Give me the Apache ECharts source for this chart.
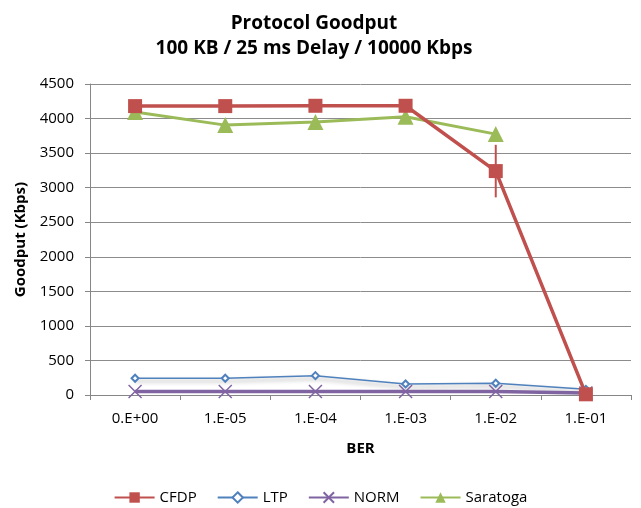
<!DOCTYPE html>
<html><head><meta charset="utf-8">
<script src="https://cdn.jsdelivr.net/npm/echarts@6/dist/echarts.min.js"></script>
<style>html,body{margin:0;padding:0;background:#fff}#c{width:641px;height:508px}</style>
</head><body><div id="c"></div>
<script>
const categories = ['0.E+00','1.E-05','1.E-04','1.E-03','1.E-02','1.E-01'];
const cfdp = [4180, 4180, 4185, 4185, 3240, 10];
const cfdpErr = [0, 0, 0, 0, 380, 0];
const ltp = [242, 242, 280, 160, 170, 82];
const norm = [50, 50, 50, 50, 50, 30];
const saratoga = [4095, 3905, 3950, 4025, 3775, null];
const yTicks = [0, 500, 1000, 1500, 2000, 2500, 3000, 3500, 4000, 4500];

const FONT = '"Open Sans", Lato, sans-serif';
const chart = echarts.init(document.getElementById('c'), null, {renderer:'canvas'});
const errData = cfdp.map((v,i)=> cfdpErr[i] ? [i, v - cfdpErr[i], v + cfdpErr[i]] : null).filter(Boolean);
const xPath = 'path://M0,0 L10,10 M10,0 L0,10';
chart.setOption({
  animation:false,
  backgroundColor:'#fff',
  title:{text:'Protocol Goodput\n100 KB / 25 ms Delay / 10000 Kbps', left:309, textAlign:'center', top:6,
    textStyle:{fontFamily:FONT, fontSize:19, fontWeight:'bold', color:'#000', lineHeight:25}},
  grid:{left:90, right:10, top:84, bottom:113},
  legend:{top:485, left:'center', data:['CFDP','LTP','NORM','Saratoga'], itemWidth:40, itemHeight:13, itemGap:20,
    textStyle:{fontFamily:FONT, fontSize:15, color:'#000'}},
  xAxis:{type:'category', data:categories, boundaryGap:true,
    name:'BER', nameLocation:'middle', nameGap:46,
    nameTextStyle:{fontFamily:FONT, fontSize:15, fontWeight:'bold', color:'#000'},
    axisLine:{lineStyle:{color:'#868686', width:1}},
    axisTick:{show:true, alignWithLabel:false, length:5, lineStyle:{color:'#868686'}},
    axisLabel:{fontFamily:FONT, fontSize:15, color:'#000', margin:16}},
  yAxis:{type:'value', min:0, max:4500, interval:500,
    name:'Goodput (Kbps)', nameLocation:'middle', nameGap:62, nameRotate:90,
    nameTextStyle:{fontFamily:FONT, fontSize:15, fontWeight:'bold', color:'#000'},
    axisLine:{show:true, lineStyle:{color:'#868686'}},
    axisTick:{show:true, length:5, lineStyle:{color:'#868686'}},
    axisLabel:{fontFamily:FONT, fontSize:15, color:'#000', margin:16,
      formatter:(v)=> yTicks.includes(v) ? String(v) : ''},
    splitLine:{lineStyle:{color:'#8c8c8c', width:1}}},
  series:[
    {name:'CFDP-err', type:'custom', z:1, data:errData,
      renderItem:(params, api)=>{
        const lo = api.coord([api.value(0), api.value(1)]);
        const hi = api.coord([api.value(0), api.value(2)]);
        return {type:'line', shape:{x1:lo[0], y1:lo[1], x2:hi[0], y2:hi[1]},
          style:{stroke:'#C0504D', lineWidth:2}};
      }},
    {name:'LTP', type:'line', data:ltp, z:3, symbol:'emptyDiamond', symbolSize:7,
      lineStyle:{color:'#4F81BD', width:1.5, shadowColor:'rgba(0,0,0,0.35)', shadowBlur:4, shadowOffsetY:3},
      itemStyle:{color:'#4F81BD', borderWidth:1.5}},
    {name:'NORM', type:'line', data:norm, z:4, symbol:xPath, symbolSize:13,
      lineStyle:{color:'#8064A2', width:3.5},
      itemStyle:{color:'rgba(0,0,0,0)', borderColor:'#8064A2', borderWidth:1.5}},
    {name:'Saratoga', type:'line', data:saratoga, z:5, symbol:'triangle', symbolSize:16,
      lineStyle:{color:'#9BBB59', width:3},
      itemStyle:{color:'#9BBB59'}},
    {name:'CFDP', type:'line', data:cfdp, z:6, symbol:'rect', symbolSize:14,
      lineStyle:{color:'#C0504D', width:3.5},
      itemStyle:{color:'#C0504D'}}
  ]
});
</script></body></html>
